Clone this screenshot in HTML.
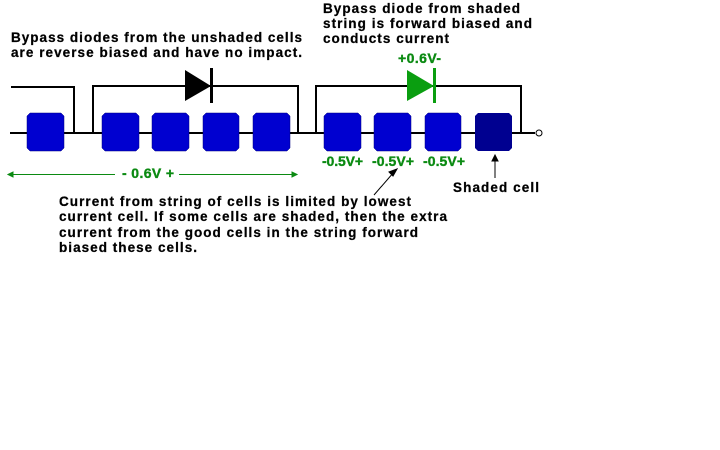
<!DOCTYPE html>
<html>
<head>
<meta charset="utf-8">
<style>
html,body{margin:0;padding:0;background:#fff;}
svg{display:block;}
text{font-family:"Liberation Sans",sans-serif;font-weight:bold;font-size:13.5px;fill:#000;stroke:#000;stroke-width:.25;}
text.g{fill:#0b8a12;stroke:#0b8a12;font-size:14px;stroke-width:.35;}
.c{fill:#0000d0;stroke:#000080;stroke-width:.5;}
</style>
</head>
<body>
<svg width="720" height="450" viewBox="0 0 720 450" xmlns="http://www.w3.org/2000/svg">
<rect width="720" height="450" fill="#fff"/>
<g fill="none" stroke="#000" stroke-width="2">
<path d="M10 133H535"/>
<path d="M11 87H74V133"/>
<path d="M93 133V86H298V133"/>
<path d="M316 133V86H521V133"/>
</g>
<circle cx="539" cy="133" r="3" fill="#fff" stroke="#000" stroke-width="1"/>
<path class="c" d="M30 113H61L64 116V148L61 151H30L27 148V116Z"/>
<path class="c" d="M105 113H136L139 116V148L136 151H105L102 148V116Z"/>
<path class="c" d="M155 113H186L189 116V148L186 151H155L152 148V116Z"/>
<path class="c" d="M206 113H236L239 116V148L236 151H206L203 148V116Z"/>
<path class="c" d="M256 113H287L290 116V148L287 151H256L253 148V116Z"/>
<path class="c" d="M327 113H358L361 116V148L358 151H327L324 148V116Z"/>
<path class="c" d="M377 113H408L411 116V148L408 151H377L374 148V116Z"/>
<path class="c" d="M428 113H458L461 116V148L458 151H428L425 148V116Z"/>
<path fill="#000090" d="M478 113H509L512 116V148L509 151H478L475 148V116Z"/>
<path fill="#000" d="M185 70L211 86L185 101Z"/>
<rect x="210" y="68" width="3" height="35" fill="#000"/>
<path fill="#0a9e10" d="M407 70L434 86L407 101Z"/>
<rect x="433" y="68" width="3" height="35" fill="#0a9e10"/>
<g stroke="#0b8a12" stroke-width="1" fill="#0b8a12">
<path d="M9 174.5H115M179 174.5H296" fill="none"/>
<path d="M8 174.5L13 172V177Z"/>
<path d="M297 174.5L292 172V177Z"/>
</g>
<g stroke="#000" stroke-width="1" fill="#000">
<path d="M374 195L394 172" fill="none"/>
<path d="M397 169L393 176L389 172Z"/>
<path d="M495 178V158" fill="none"/>
<path d="M495 155L498 161H492Z"/>
</g>
<text x="11" y="42" textLength="291" lengthAdjust="spacing">Bypass diodes from the unshaded cells</text>
<text x="11" y="57" textLength="291" lengthAdjust="spacing">are reverse biased and have no impact.</text>
<text x="323" y="13" textLength="197" lengthAdjust="spacing">Bypass diode from shaded</text>
<text x="323" y="28" textLength="209" lengthAdjust="spacing">string is forward biased and</text>
<text x="323" y="43" textLength="126" lengthAdjust="spacing">conducts current</text>
<text x="59" y="206" textLength="352" lengthAdjust="spacing">Current from string of cells is limited by lowest</text>
<text x="59" y="221" textLength="388" lengthAdjust="spacing">current cell. If some cells are shaded, then the extra</text>
<text x="59" y="237" textLength="359" lengthAdjust="spacing">current from the good cells in the string forward</text>
<text x="59" y="252" textLength="138" lengthAdjust="spacing">biased these cells.</text>
<text x="453" y="192" textLength="86" lengthAdjust="spacing">Shaded cell</text>
<text class="g" x="122" y="178" textLength="52" lengthAdjust="spacing">- 0.6V +</text>
<text class="g" x="398" y="63" textLength="43" lengthAdjust="spacing">+0.6V-</text>
<text class="g" x="322" y="166" textLength="41" lengthAdjust="spacing">-0.5V+</text>
<text class="g" x="372" y="166" textLength="42" lengthAdjust="spacing">-0.5V+</text>
<text class="g" x="423" y="166" textLength="42" lengthAdjust="spacing">-0.5V+</text>
</svg>
</body>
</html>
